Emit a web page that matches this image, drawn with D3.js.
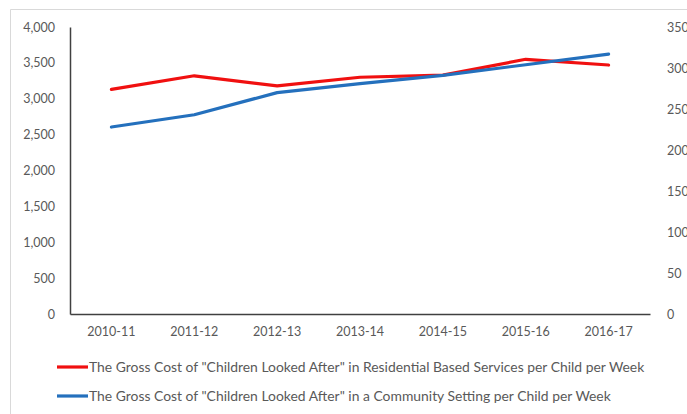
<!DOCTYPE html>
<html>
<head>
<meta charset="utf-8">
<script src="https://cdn.jsdelivr.net/npm/d3@7"></script>
<style>
  html, body { margin: 0; padding: 0; background: #fff; }
  svg { display: block; }
  text { font-family: Lato, "Open Sans", sans-serif; fill: #595959; }
</style>
</head>
<body>
<svg id="chart" width="687" height="414"></svg>
<script>
// Financial years on the category axis
const years = ["2010-11", "2011-12", "2012-13", "2013-14", "2014-15", "2015-16", "2016-17"];

// Weekly gross cost per child, residential services (left axis, £)
const residential = [3130, 3320, 3180, 3300, 3330, 3550, 3470];

// Weekly gross cost per child, community setting (right axis, £)
const community = [228, 243, 270, 281, 291, 304, 317];

// Axis tick values
const leftTicks = [0, 500, 1000, 1500, 2000, 2500, 3000, 3500, 4000];
const rightTicks = [0, 50, 100, 150, 200, 250, 300, 350];

const seriesNames = [
  'The Gross Cost of "Children Looked After" in Residential Based Services per Child per Week',
  'The Gross Cost of "Children Looked After" in a Community Setting per Child per Week'
];
const seriesColors = ["#f01010", "#2470bd"];

const svg = d3.select("#chart");
const W = 687, H = 414;
const plot = { left: 70, right: 650, top: 27, bottom: 314 };

// Outer chart frame
svg.append("path")
  .attr("d", `M10.5,${H} V9.5 H${W}`)
  .attr("fill", "none")
  .attr("stroke", "#d9d9d9")
  .attr("stroke-width", 1);

const x = d3.scaleBand().domain(years).range([plot.left, plot.right]);
const yL = d3.scaleLinear().domain([0, 4000]).range([plot.bottom, plot.top]);
const yR = d3.scaleLinear().domain([0, 350]).range([plot.bottom, plot.top]);

// Left value axis
const gL = svg.append("g").attr("transform", `translate(${plot.left},0)`)
  .call(d3.axisLeft(yL).tickValues(leftTicks).tickSize(0).tickPadding(15)
    .tickFormat(d3.format(",")));
gL.select(".domain").attr("stroke", "#404040").attr("stroke-width", 1.5);
gL.selectAll("text").attr("font-size", 12.5).attr("fill", "#595959");

// Right value axis (labels only)
const gR = svg.append("g").attr("transform", `translate(${plot.right},0)`)
  .call(d3.axisRight(yR).tickValues(rightTicks).tickSize(0).tickPadding(17));
gR.select(".domain").remove();
gR.selectAll("text").attr("font-size", 12.5).attr("fill", "#595959");

// Category axis
const gX = svg.append("g").attr("transform", `translate(0,${plot.bottom})`)
  .call(d3.axisBottom(x).tickSize(0).tickPadding(13));
gX.select(".domain").attr("stroke", "#404040").attr("stroke-width", 1.5);
gX.selectAll("text").attr("font-size", 12.5).attr("fill", "#595959");

// Series lines
const cx = d => x(d) + x.bandwidth() / 2;
const lineL = d3.line().x((d, i) => cx(years[i])).y(d => yL(d));
const lineR = d3.line().x((d, i) => cx(years[i])).y(d => yR(d));

svg.append("path").datum(residential)
  .attr("d", lineL).attr("fill", "none")
  .attr("stroke", seriesColors[0]).attr("stroke-width", 3.2)
  .attr("stroke-linejoin", "round").attr("stroke-linecap", "round");

svg.append("path").datum(community)
  .attr("d", lineR).attr("fill", "none")
  .attr("stroke", seriesColors[1]).attr("stroke-width", 3.2)
  .attr("stroke-linejoin", "round").attr("stroke-linecap", "round");

// Legend
const legendRows = [367, 396];
const legendTextWidth = 556;
seriesNames.forEach((name, i) => {
  const g = svg.append("g").attr("transform", `translate(57,${legendRows[i]})`);
  g.append("line").attr("x1", 0).attr("x2", 31).attr("y1", 0).attr("y2", 0)
    .attr("stroke", seriesColors[i]).attr("stroke-width", 3.2);
  g.append("text").attr("x", 32).attr("y", 0).attr("dy", "0.35em")
    .attr("font-size", 12).attr("fill", "#404040").text(name);
});
// Size legend text so the longer entry spans the legend width
const legendTexts = svg.selectAll("g text").filter(function () {
  return seriesNames.includes(this.textContent);
});
const firstLen = legendTexts.nodes()[0].getComputedTextLength();
const fs = 12 * legendTextWidth / firstLen;
legendTexts.attr("font-size", fs);
</script>
</body>
</html>
